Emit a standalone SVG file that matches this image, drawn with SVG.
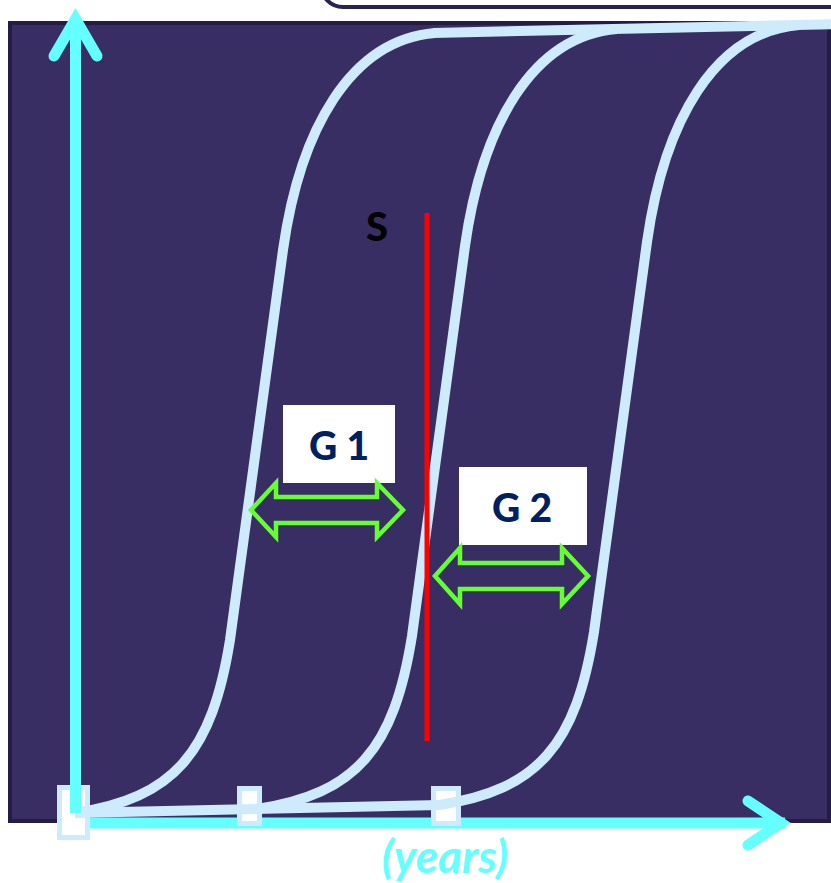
<svg xmlns="http://www.w3.org/2000/svg" width="831" height="883" viewBox="0 0 831 883">
  <defs>
    <style>
      .axis { stroke: #66ffff; stroke-width: 11; fill: none; }
      .axhead { stroke: #66ffff; stroke-width: 11; fill: none; stroke-linecap: round; stroke-linejoin: miter; }
      .curve { stroke: #cdebfc; stroke-width: 10; fill: none; stroke-linecap: butt; }
      .tick { fill: #ffffff; stroke: #cdebfc; stroke-width: 5; }
      .gbox { fill: #ffffff; }
      .glabel { font-family: Lato, "Liberation Sans", sans-serif; font-weight: 900; font-size: 39px; fill: #002060; text-anchor: middle; }
      .garrow { fill: none; stroke: #66ff33; stroke-width: 4.5; stroke-linejoin: miter; }
    </style>
    <path id="scurve" d="M75,813 C175,798 212,752 230,640 L283,250 C300,130 350,40 435,33"/>
  </defs>

  <rect x="321" y="-60" width="560" height="67" rx="22" fill="#ffffff" stroke="#2a2250" stroke-width="4"/>
  <rect id="plot" x="10" y="23" width="819" height="798" fill="#382e64" stroke="#241c45" stroke-width="4"/>

  <g id="x-axis">
    <line class="axis" x1="84" y1="823" x2="785" y2="823"/>
    <polyline class="axhead" points="748,801 781,823 748,845"/>
  </g>

  <g id="ticks">
    <rect class="tick" x="59.5" y="787.5" width="28" height="50"/>
    <rect class="tick" x="239.5" y="788.5" width="20" height="35"/>
    <rect class="tick" x="433.5" y="788.5" width="25" height="35"/>
  </g>

  <g id="connectors">
    <line class="curve" x1="75" y1="813" x2="440" y2="805"/>
    <line class="curve" x1="433" y1="33" x2="840" y2="24"/>
    <use href="#scurve" class="curve"/>
    <use href="#scurve" class="curve" transform="translate(182,-4)"/>
    <use href="#scurve" class="curve" transform="translate(364,-8)"/>
  </g>

  <g id="y-axis">
    <line class="axis" x1="75.5" y1="813" x2="75.5" y2="22"/>
    <polyline class="axhead" points="54,56 75.5,19 97,56"/>
  </g>

  <g id="S-line">
    <line x1="427" y1="213" x2="427" y2="741" stroke="#ff0000" stroke-width="5"/>
    <text x="377" y="241" font-family="Lato, 'Liberation Sans', sans-serif" font-weight="900" font-size="40" fill="#000000" text-anchor="middle">S</text>
  </g>

  <g id="G1">
    <rect class="gbox" x="283" y="405" width="112" height="78"/>
    <text class="glabel" x="339" y="460">G 1</text>
    <polygon class="garrow" points="251,510 276,483 276,497 377,497 377,483 403,510 377,537 377,523 276,523 276,537"/>
  </g>

  <g id="G2">
    <rect class="gbox" x="459" y="467" width="128" height="78"/>
    <text class="glabel" x="522" y="522">G 2</text>
    <polygon class="garrow" points="435,576 460,548 460,563 562,563 562,548 588,576 562,604 562,589 460,589 460,604"/>
  </g>

  <text id="x-label" x="445" y="873" font-family="Lato, 'Liberation Sans', sans-serif" font-weight="bold" font-style="italic" font-size="46" fill="#66ffff" text-anchor="middle">(years)</text>
</svg>
